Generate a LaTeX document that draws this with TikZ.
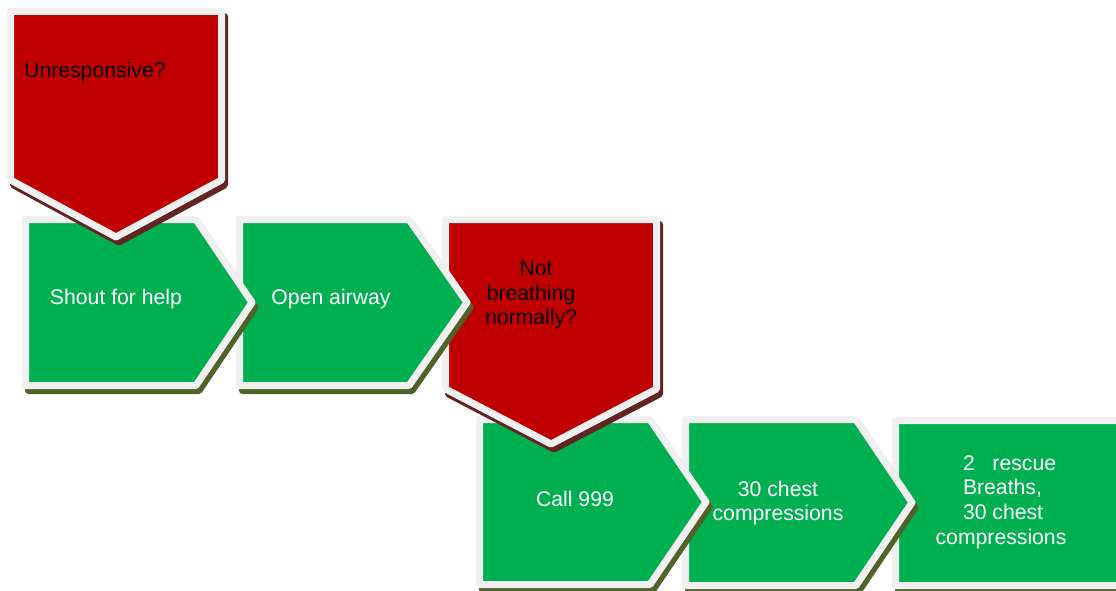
\documentclass[tikz,border=0pt]{standalone}
\usepackage{fontspec}
\setmainfont{Liberation Sans}
\definecolor{cred}{HTML}{C00000}
\definecolor{cgreen}{HTML}{00B050}
\definecolor{cborder}{HTML}{F0F0F0}
\definecolor{credsh}{HTML}{632523}
\definecolor{cgrnsh}{HTML}{4F6228}
\tikzset{
  redbox/.style={fill=cred, draw=cborder, line width=7pt, line join=round},
  grnbox/.style={fill=cgreen, draw=cborder, line width=7pt, line join=round},
  redshade/.style={fill=credsh, draw=credsh, line width=7pt, line join=round, xshift=3pt, yshift=-5pt},
  grnshade/.style={fill=cgrnsh, draw=cgrnsh, line width=7pt, line join=round, xshift=3pt, yshift=-5pt},
  lbl/.style={inner sep=0pt, font=\fontsize{21.2}{24.8}\selectfont, align=center},
  wlbl/.style={lbl, text=white},
  blbl/.style={lbl, text=black},
}
% pentagon pointing right: style, x1, y1, shoulder x, tip x, y2
\newcommand\pentRight[6]{%
  \path[#1] (#2,#3) -- (#4,#3) -- (#5,{(#3+#6)/2}) -- (#4,#6) -- (#2,#6) -- cycle;}
% pentagon pointing down: style, x1, y1, x2, shoulder y, tip y
\newcommand\pentDown[6]{%
  \path[#1] (#2,#3) -- (#4,#3) -- (#4,#5) -- ({(#2+#4)/2},#6) -- (#2,#5) -- cycle;}
\begin{document}
\begin{tikzpicture}[x=1pt, y=-1pt]
\useasboundingbox (0,0) rectangle (1116,591);
\clip (0,0) rectangle (1116,591);
% drawn back to front
\pentRight{grnshade}{895.5}{420.5}{1250}{1300}{585.5}
\pentRight{grnbox}{895.5}{420.5}{1250}{1300}{585.5}
\pentRight{grnshade}{685.5}{419.5}{856}{912}{585.5}
\pentRight{grnbox}{685.5}{419.5}{856}{912}{585.5}
\pentRight{grnshade}{479.5}{419.5}{650}{706}{584.5}
\pentRight{grnbox}{479.5}{419.5}{650}{706}{584.5}
\pentDown{redshade}{445.5}{219.5}{656.5}{389}{444}
\pentDown{redbox}{445.5}{219.5}{656.5}{389}{444}
\pentRight{grnshade}{239.5}{219.5}{409}{467}{385.5}
\pentRight{grnbox}{239.5}{219.5}{409}{467}{385.5}
\pentRight{grnshade}{25.5}{219.5}{196}{252}{385.5}
\pentRight{grnbox}{25.5}{219.5}{196}{252}{385.5}
\pentDown{redshade}{10.5}{11.5}{221.5}{180}{237}
\pentDown{redbox}{10.5}{11.5}{221.5}{180}{237}
% labels
\node[blbl, anchor=west] (unresp) at (24,72) {Unresponsive?};
\node[wlbl] (shout) at (116,299) {Shout for help};
\node[wlbl] (airway) at (331,299) {Open airway};
\node[blbl] (breath) at (531,295) {\hspace*{10pt}Not\\breathing\\normally?};
\node[wlbl] (call) at (575,499) {Call 999};
\node[wlbl] (chest) at (778,503) {30 chest\\compressions};
\node[wlbl] (rescue) at (1001,502) {\makebox[76pt][l]{2\ \ \ rescue}\\\makebox[76pt][l]{Breaths,}\\\makebox[76pt][l]{30 chest}\\compressions};
\end{tikzpicture}
\end{document}
